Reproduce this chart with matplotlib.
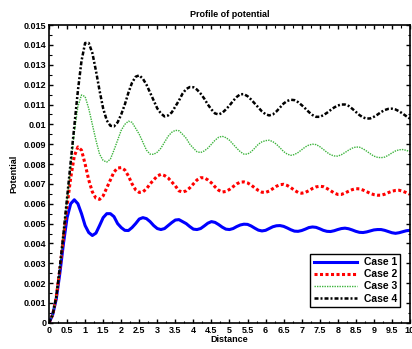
import numpy as np
import matplotlib
matplotlib.use("Agg")
import matplotlib.pyplot as plt
from matplotlib.ticker import MultipleLocator

plt.rcParams["font.family"] = ["Liberation Sans", "DejaVu Sans"]
plt.rcParams["font.weight"] = "bold"

# distance grid, 0..10 in steps of 0.1
distance = np.linspace(0, 10, 101)

case1 = [0, 0.0004, 0.0012, 0.0025, 0.0040, 0.0053, 0.0060, 0.0062, 0.0060, 0.0055,
         0.0049, 0.00455, 0.0044, 0.00452, 0.0049, 0.0053, 0.0055, 0.0055, 0.00535, 0.0050,
         0.0048, 0.00466, 0.00465, 0.0048, 0.0050, 0.00523, 0.0053, 0.00525, 0.0051, 0.0049,
         0.00475, 0.0047, 0.00475, 0.0049, 0.00505, 0.00518, 0.0052, 0.0051, 0.0050, 0.00485,
         0.00472, 0.0047, 0.00475, 0.00488, 0.00502, 0.0051, 0.00506, 0.00495, 0.00482, 0.00472,
         0.0047, 0.00475, 0.00485, 0.00493, 0.00497, 0.00496, 0.00488, 0.00477, 0.00467, 0.00463,
         0.00466, 0.00475, 0.00484, 0.00489, 0.0049, 0.00486, 0.00478, 0.00469, 0.00462, 0.00461,
         0.00465, 0.00472, 0.0048, 0.00483, 0.00481, 0.00474, 0.00466, 0.00461, 0.0046, 0.00464,
         0.0047, 0.00475, 0.00477, 0.00474, 0.00468, 0.00461, 0.00456, 0.00455, 0.00458, 0.00463,
         0.00468, 0.0047, 0.0047, 0.00466, 0.0046, 0.00454, 0.00451, 0.00454, 0.00459, 0.00464,
         0.00466]

case2 = [0, 0.0004, 0.0013, 0.0027, 0.0043, 0.0059, 0.0073, 0.0084, 0.00886, 0.0087,
         0.0080, 0.0072, 0.0066, 0.00628, 0.00622, 0.0064, 0.0068, 0.0072, 0.0076, 0.0078,
         0.00782, 0.0077, 0.0074, 0.0070, 0.0067, 0.00657, 0.0066, 0.00675, 0.0070, 0.0072,
         0.0074, 0.00748, 0.00742, 0.0073, 0.0071, 0.0069, 0.00665, 0.00659, 0.00665, 0.0068,
         0.0070, 0.0072, 0.00731, 0.00731, 0.0072, 0.00705, 0.00685, 0.00668, 0.00659, 0.00662,
         0.00672, 0.00686, 0.0070, 0.00709, 0.0071, 0.00705, 0.00694, 0.0068, 0.00667, 0.00658,
         0.00657, 0.00664, 0.00676, 0.00688, 0.00696, 0.00698, 0.00692, 0.00681, 0.00668, 0.00657,
         0.00653, 0.00657, 0.00666, 0.00677, 0.00685, 0.00688, 0.00686, 0.00677, 0.00666, 0.00654,
         0.00647, 0.00647, 0.00654, 0.00663, 0.00671, 0.00676, 0.00675, 0.00669, 0.00661, 0.00652,
         0.00646, 0.00643, 0.00643, 0.00648, 0.00656, 0.00663, 0.00667, 0.00668, 0.00663, 0.00656,
         0.00648]

case3 = [0, 0.0004, 0.0013, 0.0028, 0.0045, 0.0062, 0.0079, 0.0096, 0.0109, 0.01148,
         0.0114, 0.0108, 0.0100, 0.0092, 0.0085, 0.00818, 0.0081, 0.00825, 0.0087, 0.0092,
         0.0097, 0.0100, 0.01016, 0.0101, 0.0098, 0.0095, 0.0091, 0.0087, 0.0085, 0.00849,
         0.0086, 0.0088, 0.0091, 0.0094, 0.0096, 0.0097, 0.00968, 0.0095, 0.0093, 0.0090,
         0.0088, 0.00862, 0.00858, 0.00866, 0.0088, 0.0090, 0.0092, 0.00935, 0.0094, 0.00933,
         0.0092, 0.0090, 0.0088, 0.00862, 0.0085, 0.0085, 0.00862, 0.0088, 0.0090, 0.00912,
         0.00918, 0.0092, 0.00913, 0.0090, 0.00882, 0.00863, 0.0085, 0.00844, 0.00848, 0.00858,
         0.00872, 0.00886, 0.00896, 0.0090, 0.00898, 0.00888, 0.00874, 0.00859, 0.00847, 0.00841,
         0.0084, 0.00847, 0.00858, 0.0087, 0.0088, 0.00886, 0.00885, 0.00877, 0.00865, 0.00852,
         0.0084, 0.00834, 0.00832, 0.00835, 0.00844, 0.00856, 0.00866, 0.00872, 0.00873, 0.00869,
         0.00863]

case4 = [0, 0.0004, 0.0013, 0.0028, 0.0045, 0.0063, 0.0081, 0.0099, 0.0117, 0.0132,
         0.0141, 0.0141, 0.0136, 0.0127, 0.0117, 0.0108, 0.0102, 0.00993, 0.0099, 0.0101,
         0.0105, 0.0110, 0.0116, 0.0121, 0.0124, 0.01247, 0.0123, 0.0120, 0.0116, 0.0112,
         0.0108, 0.01055, 0.0104, 0.01045, 0.0106, 0.0109, 0.0112, 0.01155, 0.01178, 0.01188,
         0.01187, 0.01175, 0.01155, 0.0113, 0.0110, 0.01075, 0.01055, 0.0105, 0.01058, 0.01075,
         0.01095, 0.01118, 0.01138, 0.01152, 0.01152, 0.01142, 0.01125, 0.01105, 0.01085, 0.01065,
         0.01051, 0.01045, 0.0105, 0.01065, 0.01085, 0.01105, 0.01118, 0.01124, 0.01122, 0.01112,
         0.01097, 0.0108, 0.01062, 0.01047, 0.01038, 0.01038, 0.01046, 0.01058, 0.01072, 0.01085,
         0.01095, 0.0110, 0.0110, 0.01093, 0.01079, 0.01063, 0.01047, 0.01035, 0.01029, 0.0103,
         0.01038, 0.01049, 0.01062, 0.01072, 0.01078, 0.01079, 0.01075, 0.01066, 0.01054, 0.01041,
         0.01029]

labels = ["Case 1", "Case 2", "Case 3", "Case 4"]

fig = plt.figure(figsize=(4.12, 3.49), dpi=100)
ax = fig.add_axes([0.119, 0.075, 0.876, 0.853])

ax.plot(distance, case1, color="#0000ff", lw=2.2, ls="-", label=labels[0])
ax.plot(distance, case2, color="#ff0000", lw=2.2, ls=(0, (1, 0.8)), label=labels[1])
ax.plot(distance, case3, color="#3cb43c", lw=1.0, ls=(0, (1, 0.8)), label=labels[2])
ax.plot(distance, case4, color="#000000", lw=1.8, ls=(0, (1.6, 0.8, 0.8, 0.8)), label=labels[3])

ax.set_xlim(0, 10)
ax.set_ylim(0, 0.015)
ax.xaxis.set_major_locator(MultipleLocator(0.5))
ax.xaxis.set_minor_locator(MultipleLocator(0.25))
ax.yaxis.set_major_locator(MultipleLocator(0.001))
ax.yaxis.set_minor_locator(MultipleLocator(0.0005))
ax.set_xticklabels([f"{v:g}" for v in ax.get_xticks()])
ax.set_yticklabels([f"{v:g}" for v in ax.get_yticks()])
ax.tick_params(which="both", direction="in", top=True, right=True, labelsize=6.5, pad=2)
ax.tick_params(which="major", length=3, width=1)
ax.tick_params(which="minor", length=1.8, width=0.8)
for s in ax.spines.values():
    s.set_linewidth(1.2)

ax.set_title("Profile of potential", fontsize=6.5, fontweight="bold", pad=6)
ax.set_xlabel("Distance", fontsize=6.5, fontweight="bold", labelpad=0)
ax.set_ylabel("Potential", fontsize=6.5, fontweight="bold", labelpad=4)

leg = ax.legend(loc="lower right", bbox_to_anchor=(0.988, 0.035), fontsize=7.5,
                fancybox=False, edgecolor="black", framealpha=1,
                handlelength=4.2, handletextpad=0.6, borderpad=0.35, labelspacing=0.2)
leg.get_frame().set_linewidth(1.0)
for t in leg.get_texts():
    t.set_fontweight("bold")

fig.savefig("out.png", dpi=100)
